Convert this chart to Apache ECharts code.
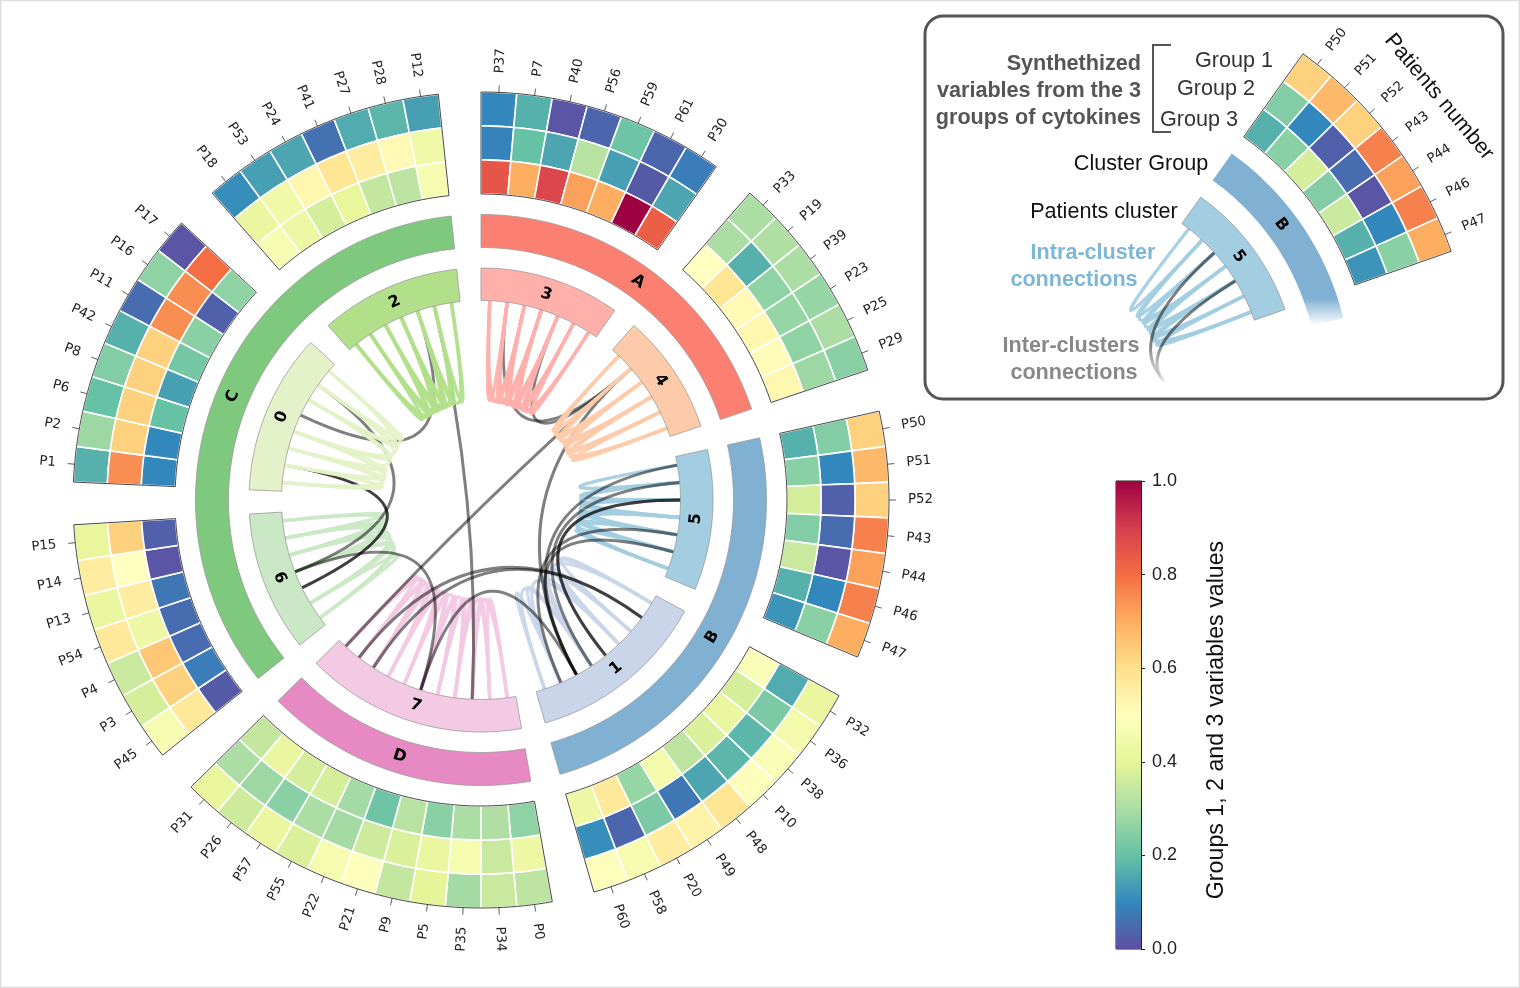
<!DOCTYPE html>
<html><head><meta charset="utf-8">
<style>html,body{margin:0;padding:0;background:#fff}#c{width:1520px;height:988px}</style>
<script src="https://cdn.jsdelivr.net/npm/echarts@6/dist/echarts.min.js"></script>
</head><body><div id="c"></div>
<script>
// ---------- DATA ----------
const patients3 = ['P37','P7','P40','P56','P59','P61','P30'];
const outer3 = [.10,.17,.01,.04,.21,.04,.08];
const mid3   = [.09,.20,.15,.32,.14,.02,.15];
const inner3 = [.85,.70,.88,.72,.70,1.0,.83];

const patients4 = ['P33','P19','P39','P23','P25','P29'];
const outer4 = [.30,.31,.30,.27,.30,.25];
const mid4   = [.30,.17,.26,.27,.26,.28];
const inner4 = [.50,.58,.52,.53,.51,.53];

const patients5 = ['P50','P51','P52','P43','P44','P46','P47'];
const outer5 = [.63,.68,.63,.77,.72,.77,.70];
const mid5   = [.24,.10,.03,.05,.01,.10,.25];
const inner5 = [.17,.25,.37,.24,.35,.17,.12];

const patients1 = ['P32','P36','P38','P10','P48','P49','P20','P58','P60'];
const outer1 = [.42,.45,.48,.49,.58,.54,.56,.46,.49];
const mid1   = [.16,.23,.18,.18,.15,.07,.23,.04,.11];
const inner1 = [.48,.37,.42,.38,.33,.45,.27,.57,.43];

const patients7 = ['P0','P34','P35','P5','P9','P21','P22','P55','P57','P26','P31'];
const outer7 = [.33,.35,.29,.40,.34,.49,.46,.38,.42,.36,.41];
const mid7   = [.43,.35,.46,.42,.38,.36,.29,.30,.25,.28,.30];
const inner7 = [.26,.31,.30,.25,.32,.21,.29,.37,.37,.42,.34];

const patients6 = ['P45','P3','P4','P54','P13','P14','P15'];
const outer6 = [.47,.37,.35,.57,.42,.56,.41];
const mid6   = [.57,.63,.65,.43,.56,.50,.63];
const inner6 = [.02,.08,.05,.05,.07,.01,.03];

const patients0 = ['P1','P2','P6','P8','P42','P11','P16','P17'];
const outer0 = [.17,.28,.20,.24,.17,.05,.26,.01];
const mid0   = [.75,.63,.63,.63,.63,.75,.75,.80];
const inner0 = [.10,.10,.20,.14,.22,.25,.03,.26];

const patients2 = ['P18','P53','P24','P41','P27','P28','P12'];
const outer2 = [.11,.14,.15,.06,.16,.18,.14];
const mid2   = [.42,.44,.53,.58,.56,.52,.44];
const inner2 = [.47,.43,.37,.41,.34,.33,.47];

const clusterNames = ['3','4','5','1','7','6','0','2'];
const clusterColors = ['#ffb0ab','#fdcba9','#a3cde1','#c9d5e8','#f3c9e4','#cbe8c6','#e4f2c9','#b2df8a'];
const groupNames = ['A','B','D','C'];
const groupClusters = [[0,1],[2,3],[4,4],[5,7]];
const groupColors = ['#fc8072','#80b1d3','#e78ac3','#7fc97f'];

const intra3 = 'P37-P7 P37-P40 P37-P56 P7-P40 P7-P56 P7-P59 P40-P56 P40-P59 P40-P61 P56-P59 P56-P61 P56-P30 P59-P61 P59-P30 P61-P30';
const intra4 = 'P33-P19 P33-P39 P33-P23 P19-P39 P19-P23 P39-P23 P39-P25 P23-P25 P23-P29 P25-P29 P39-P29';
const intra5 = 'P50-P51 P51-P52 P51-P43 P52-P43 P52-P44 P43-P44 P43-P46 P44-P46 P46-P47 P44-P47 P43-P47';
const intra1 = 'P32-P38 P32-P10 P38-P10 P38-P49 P10-P49 P10-P58 P49-P58 P49-P60 P58-P60 P32-P49';
const intra7 = 'P0-P34 P0-P35 P0-P5 P34-P35 P34-P5 P35-P5 P35-P9 P5-P9 P5-P21 P9-P21 P9-P22 P21-P22 P21-P55 P22-P55 P22-P57 P55-P57 P55-P26 P57-P26 P57-P31 P26-P31 P55-P31';
const intra6 = 'P45-P3 P45-P54 P3-P54 P3-P13 P54-P13 P54-P14 P13-P14 P13-P15 P14-P15 P45-P13 P3-P14';
const intra0 = 'P1-P2 P1-P6 P1-P8 P2-P6 P2-P8 P6-P8 P6-P11 P8-P11 P8-P16 P11-P16 P11-P17 P16-P17 P8-P17';
const intra2 = 'P18-P53 P18-P24 P18-P41 P53-P24 P53-P41 P53-P27 P24-P41 P24-P27 P24-P28 P41-P27 P41-P28 P27-P28 P27-P12 P28-P12';
const interLinks = 'P7-P19 P59-P19 P19-P31 P19-P20 P28-P35 P27-P42 P2-P4 P2-P4 P16-P54 P54-P21 P21-P20 P36-P57 P36-P26 P52-P48 P52-P48 P50-P20 P51-P49 P44-P58 P46-P20';
const insetInter = ['P52','P44'];

const colorbarTicks = [0,.2,.4,.6,.8,1];
const spectral = ['#5e4fa2','#3288bd','#66c2a5','#abdda4','#e6f598','#ffffbf','#fee08b','#fdae61','#f46d43','#d53e4f','#9e0142'];

// ---------- LAYOUT ----------
const pairs=s=>s.split(' ').map(x=>x.split('-'));
const blocks = [
 {p:patients3,rows:[outer3,mid3,inner3],intra:pairs(intra3),top:true},
 {p:patients4,rows:[outer4,mid4,inner4],intra:pairs(intra4),top:true},
 {p:patients5,rows:[outer5,mid5,inner5],intra:pairs(intra5),top:false},
 {p:patients1,rows:[outer1,mid1,inner1],intra:pairs(intra1),top:false},
 {p:patients7,rows:[outer7,mid7,inner7],intra:pairs(intra7),top:false},
 {p:patients6,rows:[outer6,mid6,inner6],intra:pairs(intra6),top:false},
 {p:patients0,rows:[outer0,mid0,inner0],intra:pairs(intra0),top:true},
 {p:patients2,rows:[outer2,mid2,inner2],intra:pairs(intra2),top:true}
];
const GAP=6, total=blocks.reduce((s,b)=>s+b.p.length,0), W=(360-GAP*blocks.length)/total;
const HEAT=[408,374,340,306], GR=[252.5,285.5], CL=[199.5,232], LINKR=199.5, LBL=427;
const PSIZE=13.3, TSIZE=16, TXT=21.6, LINKW=3.4;
const angleOf={};
let a=0;
blocks.forEach(b=>{b.start=a;b.end=a+W*b.p.length;b.p.forEach((n,i)=>angleOf[n]=a+(i+.5)*W);a=b.end+GAP;});
const INSET_START=35.5;
const insetBlock=blocks[2];
const insetAngle=n=>INSET_START+(insetBlock.p.indexOf(n)+.5)*W;
const insetEnd=INSET_START+W*insetBlock.p.length;

function hex2(c){return [1,3,5].map(i=>parseInt(c.substr(i,2),16));}
function cmap(v){const t=Math.min(.9999,Math.max(0,v))*10,i=Math.floor(t),f=t-i,A=hex2(spectral[i]),B=hex2(spectral[i+1]);
 return 'rgb('+A.map((x,k)=>Math.round(x+(B[k]-x)*f)).join(',')+')';}
function ring(api,a0,a1,r0,r1){const pts=[],n=Math.max(2,Math.ceil((a1-a0)/1));
 for(let i=0;i<=n;i++){const t=a0+(a1-a0)*i/n;pts.push(api.coord([r1,t]).slice(0,2));}
 for(let i=n;i>=0;i--){const t=a0+(a1-a0)*i/n;pts.push(api.coord([r0,t]).slice(0,2));}
 return pts;}

function cellsSeries(pi,items,style){
 return {type:'custom',coordinateSystem:'polar',polarIndex:pi,silent:true,z:style.z||2,data:items.map(o=>o.value),
  renderItem:(params,api)=>{const o=items[params.dataIndex];
   return {type:'polygon',shape:{points:ring(api,api.value(0),api.value(1),api.value(2),api.value(3))},
    style:{fill:o.fill||'none',stroke:style.stroke,lineWidth:style.lineWidth}};}};
}
function linkSeries(pi,items,width,z){
 return {type:'custom',coordinateSystem:'polar',polarIndex:pi,silent:true,z:z,data:items.map(o=>o.value),
  renderItem:(params,api)=>{const o=items[params.dataIndex];
   const p=api.coord([LINKR,api.value(0)]),q=api.coord([LINKR,api.value(1)]),c=api.coord([0,0]);
   const shape={x1:p[0],y1:p[1],x2:q[0],y2:q[1],cpx1:c[0],cpy1:c[1]};
   if(o.percent)shape.percent=o.percent;
   return {type:'bezierCurve',shape,style:{fill:'none',stroke:o.color,opacity:o.opacity,lineWidth:width}};}};
}
function labelSeries(pi,items,z){
 return {type:'custom',coordinateSystem:'polar',polarIndex:pi,silent:true,z:z,data:items.map(o=>o.value),
  renderItem:(params,api)=>{const o=items[params.dataIndex],ang=api.value(1),pt=api.coord([api.value(0),ang]);
   let rot,align;
   if(o.mode==='radial'){ if(ang<180){rot=90-ang;align='left';}else{rot=270-ang;align='right';} }
   else { align='center'; rot=(ang>90&&ang<270)?180-ang:-ang; }
   return {type:'text',x:pt[0],y:pt[1],rotation:rot*Math.PI/180,
    style:{text:o.text,fontFamily:'DejaVu Sans',fontSize:o.size,fontWeight:o.weight||'normal',fill:o.fill||'#222',align,verticalAlign:'middle'}};}};
}
function tickSeries(pi,angles,z){
 return {type:'custom',coordinateSystem:'polar',polarIndex:pi,silent:true,z:z,data:angles.map(x=>[x]),
  renderItem:(params,api)=>{const t=api.value(0),p=api.coord([HEAT[0],t]),q=api.coord([HEAT[0]+7,t]);
   return {type:'line',shape:{x1:p[0],y1:p[1],x2:q[0],y2:q[1]},style:{stroke:'#333',lineWidth:.8}};}};
}

// ---------- SERIES: main wheel ----------
const series=[];
const intraOver=[],intraUnder=[];
blocks.forEach((b,i)=>b.intra.forEach(pr=>(b.top?intraOver:intraUnder).push({value:[angleOf[pr[0]],angleOf[pr[1]]],color:clusterColors[i],opacity:.92})));
series.push(linkSeries(0,intraUnder,LINKW,0.5));
series.push(linkSeries(0,pairs(interLinks).map(pr=>({value:[angleOf[pr[0]],angleOf[pr[1]]],color:'#000',opacity:.5})),3,1));
series.push(linkSeries(0,intraOver,LINKW,1.5));

const heatItems=[],outlineItems=[],clusterItems=[],labels=[];
blocks.forEach((b,i)=>{
 b.p.forEach((n,j)=>{
  b.rows.forEach((row,k)=>heatItems.push({value:[b.start+j*W,b.start+(j+1)*W,HEAT[k+1],HEAT[k]],fill:cmap(row[j])}));
  labels.push({value:[LBL,angleOf[n]],text:n,mode:'radial',size:PSIZE});
 });
 outlineItems.push({value:[b.start,b.end,HEAT[3],HEAT[0]]});
 clusterItems.push({value:[b.start,b.end,CL[0],CL[1]],fill:clusterColors[i]});
 labels.push({value:[(CL[0]+CL[1])/2,(b.start+b.end)/2],text:clusterNames[i],mode:'tangent',size:TSIZE,weight:'bold',fill:'#000'});
});
groupClusters.forEach((g,i)=>{
 const s=blocks[g[0]].start,e=blocks[g[1]].end;
 clusterItems.push({value:[s,e,GR[0],GR[1]],fill:groupColors[i]});
 labels.push({value:[(GR[0]+GR[1])/2,(s+e)/2],text:groupNames[i],mode:'tangent',size:TSIZE,weight:'bold',fill:'#000'});
});
series.push(cellsSeries(0,heatItems,{stroke:'#fff',lineWidth:1.6,z:2}));
series.push(cellsSeries(0,outlineItems,{stroke:'#333',lineWidth:.9,z:3}));
series.push(cellsSeries(0,clusterItems,{stroke:'#9a9a9a',lineWidth:.8,z:2}));
series.push(tickSeries(0,Object.values(angleOf),3));
series.push(labelSeries(0,labels,4));

// ---------- SERIES: legend inset (same block, same values, second polar) ----------
const insetHeat=[],insetLabels=[];
insetBlock.p.forEach((n,j)=>{
 insetBlock.rows.forEach((row,k)=>insetHeat.push({value:[INSET_START+j*W,INSET_START+(j+1)*W,HEAT[k+1],HEAT[k]],fill:cmap(row[j])}));
 insetLabels.push({value:[LBL,insetAngle(n)],text:n,mode:'radial',size:PSIZE});
});
insetLabels.push({value:[(CL[0]+CL[1])/2,(INSET_START+insetEnd)/2],text:clusterNames[2],mode:'tangent',size:TSIZE,weight:'bold',fill:'#000'});
insetLabels.push({value:[(GR[0]+GR[1])/2,(INSET_START+insetEnd)/2],text:groupNames[1],mode:'tangent',size:TSIZE,weight:'bold',fill:'#000'});
const FADE={type:'linear',x:0,y:345,x2:0,y2:384,global:true,colorStops:[{offset:0,color:'rgba(0,0,0,1)'},{offset:1,color:'rgba(0,0,0,0)'}]};
series.push(linkSeries(1,insetBlock.intra.map(pr=>({value:[insetAngle(pr[0]),insetAngle(pr[1])],color:clusterColors[2],opacity:.92})),LINKW,0.5));
series.push(linkSeries(1,insetInter.map(n=>({value:[insetAngle(n),100],color:FADE,opacity:.5,percent:.63})),3,1));
series.push(cellsSeries(1,insetHeat,{stroke:'#fff',lineWidth:1.6,z:2}));
series.push(cellsSeries(1,[{value:[INSET_START,insetEnd,HEAT[3],HEAT[0]]}],{stroke:'#333',lineWidth:.9,z:3}));
series.push(cellsSeries(1,[{value:[INSET_START,insetEnd,CL[0],CL[1]],fill:clusterColors[2]}],{stroke:'#9a9a9a',lineWidth:.8,z:2}));
series.push(cellsSeries(1,[{value:[INSET_START,insetEnd+5.5,GR[0],GR[1]],
  fill:{type:'linear',x:0,y:0,x2:0,y2:1,colorStops:[{offset:0,color:groupColors[1]},{offset:.84,color:groupColors[1]},{offset:1,color:'rgba(128,177,211,0)'}]}}],{stroke:'none',lineWidth:0,z:2}));
series.push(tickSeries(1,insetBlock.p.map(insetAngle),3));
series.push(labelSeries(1,insetLabels,4));

// ---------- SERIES: colour bar ----------
series.push({type:'bar',xAxisIndex:0,yAxisIndex:0,data:[1],barWidth:'100%',silent:true,
 itemStyle:{color:{type:'linear',x:0,y:1,x2:0,y2:0,colorStops:spectral.map((c,i)=>({offset:i/10,color:c}))}}});

// ---------- TEXT ----------
const T=(text,x,y,o)=>({type:'text',x,y,rotation:(o&&o.rot)||0,silent:true,z:20,
 style:Object.assign({text,fontFamily:'Liberation Sans',fontSize:TXT,fill:'#222',align:'center',verticalAlign:'middle'},o||{})});
const graphics=[
 {type:'rect',silent:true,z:0,shape:{x:0.5,y:0.5,width:1519,height:987},style:{fill:'none',stroke:'#dcdcdc',lineWidth:1.5}},
 {type:'rect',silent:true,z:0,shape:{x:925,y:16,width:578,height:383,r:18},style:{fill:'none',stroke:'#555',lineWidth:3}},
 {type:'polyline',silent:true,z:20,shape:{points:[[1171,45],[1153,45],[1153,132],[1171,132]]},style:{fill:'none',stroke:'#555',lineWidth:2}},
 T('Synthethized',1141,64,{align:'right',fontWeight:'bold',fill:'#555'}),
 T('variables from the 3',1141,91,{align:'right',fontWeight:'bold',fill:'#555'}),
 T('groups of cytokines',1141,118,{align:'right',fontWeight:'bold',fill:'#555'}),
 T('Group 1',1234,61,{fill:'#333'}),
 T('Group 2',1216,89,{fill:'#333'}),
 T('Group 3',1199,120,{fill:'#333'}),
 T('Cluster Group',1141,164,{fill:'#111'}),
 T('Patients cluster',1104,212,{fill:'#111'}),
 T('Intra-cluster',1093,253,{fontWeight:'bold',fill:'#7fb6d6'}),
 T('connections',1074,280,{fontWeight:'bold',fill:'#7fb6d6'}),
 T('Inter-clusters',1071,346,{fontWeight:'bold',fill:'#888'}),
 T('connections',1074,373,{fontWeight:'bold',fill:'#888'}),
 T('Patients number',1439,97,{rot:-50*Math.PI/180,fill:'#111'})
];

const chart=echarts.init(document.getElementById('c'),null,{renderer:'canvas'});
chart.setOption({
 animation:false,backgroundColor:'#fff',
 polar:[{center:[481,500],radius:460},{center:[1066,386],radius:460}],
 angleAxis:[0,1].map(i=>({polarIndex:i,type:'value',min:0,max:360,startAngle:90,clockwise:true,show:false})),
 radiusAxis:[0,1].map(i=>({polarIndex:i,type:'value',min:0,max:460,show:false})),
 grid:{left:1116,top:481,width:25,height:468,show:true,borderColor:'#222',borderWidth:1,backgroundColor:'transparent',containLabel:false},
 xAxis:{type:'category',data:[''],show:false},
 yAxis:{type:'value',min:0,max:1,interval:.2,position:'right',
  axisLine:{show:true,lineStyle:{color:'#222'}},axisTick:{show:true,length:4,lineStyle:{color:'#222'}},splitLine:{show:false},
  axisLabel:{fontFamily:'Liberation Sans',fontSize:18,color:'#222',margin:11,formatter:v=>colorbarTicks.includes(+v.toFixed(1))?v.toFixed(1):''},
  name:'Groups 1, 2 and 3 variables values',nameLocation:'middle',nameRotate:90,nameGap:64,
  nameTextStyle:{fontFamily:'Liberation Sans',fontSize:23.2,color:'#111',padding:[0,10,0,0]}},
 graphic:{elements:graphics},
 series
});
</script></body></html>
